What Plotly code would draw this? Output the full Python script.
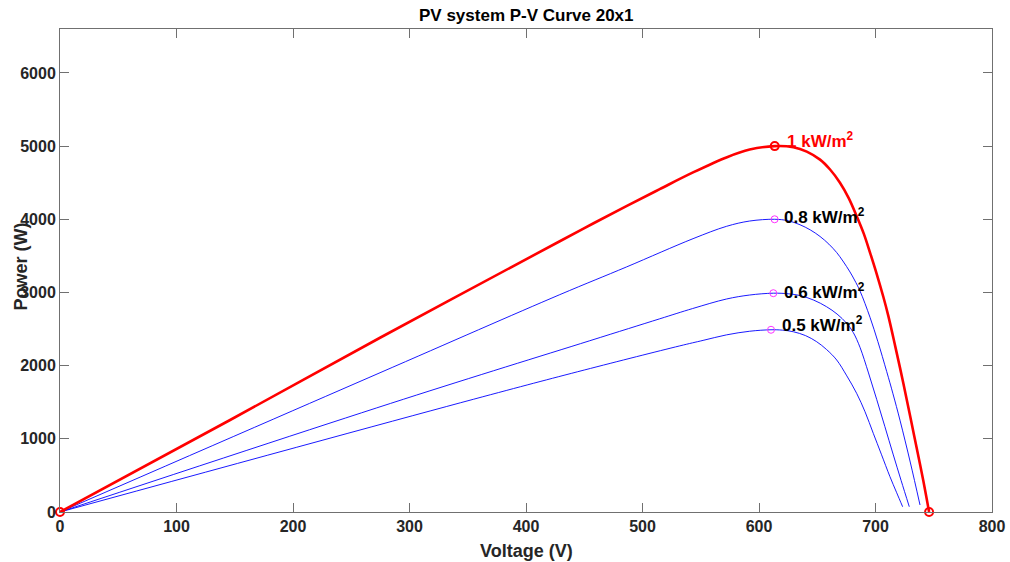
import plotly.graph_objects as go

# ---- data ----
v_1000 = [0, 146, 274.7, 429, 457.6, 486.2, 514.8, 543.4, 572, 592, 613.5, 629.5, 641, 652.4, 661, 669.5, 677, 683.8, 690, 695.3, 701, 706.7, 711, 717, 723.9, 730, 735.4, 741, 746]
p_1000 = [0, 1257, 2381, 3700, 3942, 4180, 4412, 4640, 4845, 4952, 5000, 4985, 4925, 4815, 4680, 4500, 4290, 4045, 3800, 3545, 3255, 2941, 2680, 2260, 1760, 1290, 870, 430, 0]

v_800 = [0, 274.7, 429, 486.2, 543.4, 572, 592, 613.4, 625, 635.2, 644, 652.4, 660, 666.7, 672, 678.1, 682, 686.7, 695.3, 702, 709.6, 715, 721, 730, 738.2]
p_800 = [0, 1903, 2970, 3348, 3735, 3903, 3976, 4000, 3980, 3925, 3855, 3765, 3660, 3545, 3430, 3280, 3170, 3020, 2660, 2330, 1920, 1615, 1255, 670, 96]

v_600 = [0, 294.7, 454.7, 514.8, 543, 572, 592, 612.3, 625, 635.2, 647, 658, 667, 675.3, 681, 686.7, 694, 701, 708, 715.3, 722, 729]
p_600 = [0, 1540, 2340, 2640, 2780, 2910, 2965, 2990, 2982, 2958, 2895, 2805, 2705, 2578, 2450, 2250, 1900, 1540, 1170, 780, 430, 72]

v_500 = [0, 354.8, 450, 532, 552, 572, 592, 610.3, 620, 629.5, 640, 649.5, 658, 666.7, 675, 683.8, 691, 698.1, 705, 712.4, 718, 723.3]
p_500 = [0, 1540, 1940, 2270, 2345, 2420, 2470, 2490, 2485, 2463, 2410, 2327, 2220, 2077, 1870, 1622, 1370, 1075, 790, 483, 270, 72]

mpp_v = [613.5, 613.4, 612.3, 610.3]
mpp_p = [5000, 4000, 2990, 2490]
labels = ["1 kW/m<sup>2</sup>", "0.8 kW/m<sup>2</sup>", "0.6 kW/m<sup>2</sup>", "0.5 kW/m<sup>2</sup>"]
label_v = [622, 620, 620, 618]
label_p = [5080, 4040, 3020, 2570]
label_colors = ["red", "black", "black", "black"]

x_ticks = [0, 100, 200, 300, 400, 500, 600, 700, 800]
y_ticks = [0, 1000, 2000, 3000, 4000, 5000, 6000]

FONT = "Liberation Sans, Arial, sans-serif"

fig = go.Figure()
for v, p in [(v_800, p_800), (v_600, p_600), (v_500, p_500)]:
    fig.add_trace(go.Scatter(x=v, y=p, mode="lines", line=dict(color="#0000ff", width=0.9, shape="spline", smoothing=1.0),
                             showlegend=False, hoverinfo="skip"))
fig.add_trace(go.Scatter(x=v_1000, y=p_1000, mode="lines", line=dict(color="red", width=2.6, shape="spline", smoothing=1.0),
                         showlegend=False))
# MPP markers
fig.add_trace(go.Scatter(x=mpp_v[1:], y=mpp_p[1:], mode="markers", showlegend=False,
                         marker=dict(symbol="circle-open", color="#ff33ff", size=7, line=dict(width=1))))
fig.add_trace(go.Scatter(x=[mpp_v[0], v_1000[0], v_1000[-1]], y=[mpp_p[0], p_1000[0], p_1000[-1]], mode="markers",
                         showlegend=False,
                         marker=dict(symbol="circle-open", color="red", size=8, line=dict(width=2))))

annotations = []
for lv, lp, txt, c in zip(label_v, label_p, labels, label_colors):
    annotations.append(dict(x=lv, y=lp, text="<b>" + txt + "</b>", showarrow=False, xanchor="left", yanchor="middle",
                            font=dict(family=FONT, size=17, color=c)))
annotations.append(dict(x=0.5, y=-0.08, xref="paper", yref="paper", text="<b>Voltage (V)</b>", showarrow=False,
                        xanchor="center", yanchor="middle", font=dict(family=FONT, size=18, color="#262626")))
annotations.append(dict(x=-0.042, y=0.508, xref="paper", yref="paper", text="<b>Power (W)</b>", showarrow=False,
                        textangle=-90, xanchor="center", yanchor="middle", font=dict(family=FONT, size=18, color="#262626")))
annotations.append(dict(x=0.5, y=1.0, xref="paper", yref="paper", text="<b>PV system P-V Curve 20x1</b>", showarrow=False,
                        xanchor="center", yanchor="bottom", yshift=2, font=dict(family=FONT, size=17, color="black")))

axis_common = dict(showgrid=False, zeroline=False, showline=True, linecolor="#707070", linewidth=1,
                   mirror="ticks", ticks="inside", ticklen=9, tickcolor="#707070", tickwidth=1,
                   automargin=False, ticklabeloverflow="allow",
                   tickfont=dict(family=FONT, size=16, color="#262626"))
fig.update_xaxes(range=[0, 800], tickvals=x_ticks, ticktext=["<b>%d</b>" % t for t in x_ticks], **axis_common)
fig.update_yaxes(range=[0, 6600], tickvals=y_ticks, ticktext=["<b>%d</b>" % t for t in y_ticks], **axis_common)

fig.update_layout(width=1010, height=562, margin=dict(l=60, r=18, t=29, b=50),
                  paper_bgcolor="white", plot_bgcolor="white", annotations=annotations,
                  font=dict(family=FONT))
fig.update_traces(cliponaxis=False)
fig.write_html("out.html")
